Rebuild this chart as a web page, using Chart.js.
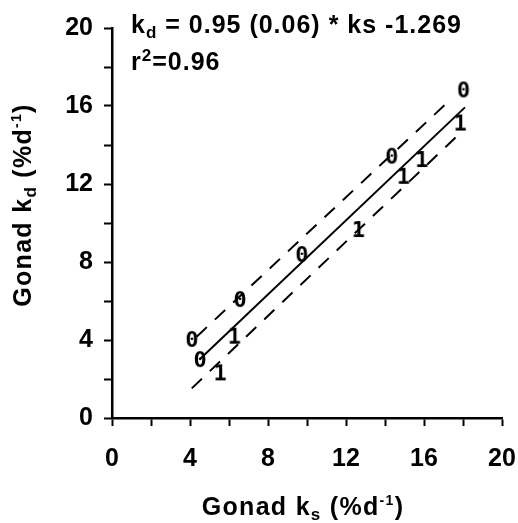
<!DOCTYPE html>
<html>
<head>
<meta charset="utf-8">
<script src="https://cdn.jsdelivr.net/npm/chart.js@4/dist/chart.umd.min.js"></script>
<style>
  html, body { margin: 0; padding: 0; background: #fff; }
  #wrap { width: 518px; height: 523px; position: relative; }
</style>
</head>
<body>
<div id="wrap"><canvas id="myChart"></canvas></div>
<script>
// group "0" points
const zeroX = [4.09, 4.51, 6.56, 9.73, 14.34, 18.02];
const zeroY = [4.0, 2.97, 6.05, 8.36, 13.4, 16.8];
// group "1" points
const oneX = [5.54, 6.27, 12.63, 14.94, 15.88, 17.85];
const oneY = [2.29, 4.17, 9.64, 12.37, 13.23, 15.1];
// regression line and dashed bands (end points)
const fitX = [4.5, 18.1];
const fitY = [3.01, 15.93];
const upperX = [4.34, 17.33];
const upperY = [4.17, 16.3];
const lowerX = [4.09, 17.93];
const lowerY = [1.52, 14.68];
const tickLabels = [0, 4, 8, 12, 16, 20];

const FONT = "'Liberation Sans', Arial, sans-serif";

function toPoints(xs, ys) {
  return xs.map((x, i) => ({ x, y: ys[i] }));
}

function glyphMarker(ch) {
  const c = document.createElement("canvas");
  c.width = 18;
  c.height = 26;
  const g = c.getContext("2d");
  g.fillStyle = "#000";
  g.font = "bold 22px 'DejaVu Sans Mono', monospace";
  g.textAlign = "center";
  g.textBaseline = "middle";
  g.fillText(ch, 9, 14);
  return c;
}

// draws text pieces: [text, size, dy]
function drawPieces(ctx, pieces, x, y, spacing) {
  let cx = x;
  ctx.letterSpacing = spacing + "px";
  pieces.forEach(([text, size, dy]) => {
    ctx.font = "bold " + size + "px " + FONT;
    ctx.fillText(text, cx, y + dy);
    cx += ctx.measureText(text).width;
  });
  ctx.letterSpacing = "0px";
}

function piecesWidth(ctx, pieces, spacing) {
  let w = 0;
  ctx.letterSpacing = spacing + "px";
  pieces.forEach(([text, size]) => {
    ctx.font = "bold " + size + "px " + FONT;
    w += ctx.measureText(text).width;
  });
  ctx.letterSpacing = "0px";
  return w;
}

const textPlugin = {
  id: "texts",
  afterDraw(chart) {
    const ctx = chart.ctx;
    ctx.save();
    ctx.fillStyle = "#000";
    ctx.textAlign = "left";
    ctx.textBaseline = "alphabetic";

    drawPieces(ctx, [["k", 25, 0], ["d", 17, 5], [" = 0.95 (0.06) * ks -1.269", 25, 0]], 131, 33, 1);
    drawPieces(ctx, [["r", 25, 0], ["2", 17, -9], ["=0.96", 25, 0]], 131, 70, 1);

    const xTitle = [["Gonad k", 25, 0], ["s", 17, 5], [" (%d", 25, 0], ["-1", 14, -10], [")", 25, 0]];
    const xw = piecesWidth(ctx, xTitle, 1.3);
    drawPieces(ctx, xTitle, 303 - xw / 2, 515, 1.3);

    const yTitle = [["Gonad k", 25, 0], ["d", 17, 5], [" (%d", 25, 0], ["-1", 14, -10], [")", 25, 0]];
    const yw = piecesWidth(ctx, yTitle, 1.3);
    ctx.translate(31, 205);
    ctx.rotate(-Math.PI / 2);
    drawPieces(ctx, yTitle, -yw / 2, 0, 1.3);
    ctx.restore();
  },
};

function axisOptions(fitSize, isX) {
  return {
    type: "linear",
    min: 0,
    max: 20,
    afterFit(scale) {
      if (isX) scale.height = fitSize;
      else scale.width = fitSize;
    },
    ticks: {
      stepSize: 2,
      autoSkip: false,
      maxRotation: 0,
      color: "#000",
      padding: isX ? 2 : 11,
      font: { family: FONT, size: 25, weight: "bold", lineHeight: isX ? 2.45 : 1.2 },
      callback: (v) => (tickLabels.includes(v) ? String(v) : ""),
    },
    grid: {
      drawOnChartArea: false,
      drawTicks: true,
      tickLength: 8,
      tickWidth: 2,
      tickColor: "#000",
    },
    border: { display: true, color: "#000", width: 2.5 },
  };
}

const ctx = document.getElementById("myChart");
new Chart(ctx, {
  type: "scatter",
  data: {
    datasets: [
      {
        label: "fit",
        data: toPoints(fitX, fitY),
        showLine: true,
        borderColor: "#000",
        borderWidth: 2,
        pointRadius: 0,
      },
      {
        label: "upper",
        data: toPoints(upperX, upperY),
        showLine: true,
        borderColor: "#000",
        borderWidth: 2,
        borderDash: [14, 11],
        pointRadius: 0,
      },
      {
        label: "lower",
        data: toPoints(lowerX, lowerY),
        showLine: true,
        borderColor: "#000",
        borderWidth: 2,
        borderDash: [14, 11],
        pointRadius: 0,
      },
      {
        label: "0",
        data: toPoints(zeroX, zeroY),
        pointStyle: glyphMarker("0"),
        pointRadius: 9,
      },
      {
        label: "1",
        data: toPoints(oneX, oneY),
        pointStyle: glyphMarker("1"),
        pointRadius: 9,
      },
    ],
  },
  plugins: [textPlugin],
  options: {
    responsive: true,
    maintainAspectRatio: false,
    animation: false,
    layout: { padding: { left: 0, right: 16, top: 28, bottom: 0 } },
    plugins: {
      legend: { display: false },
      tooltip: { enabled: false },
    },
    scales: {
      x: axisOptions(105, true),
      y: axisOptions(112, false),
    },
  },
});
</script>
</body>
</html>
